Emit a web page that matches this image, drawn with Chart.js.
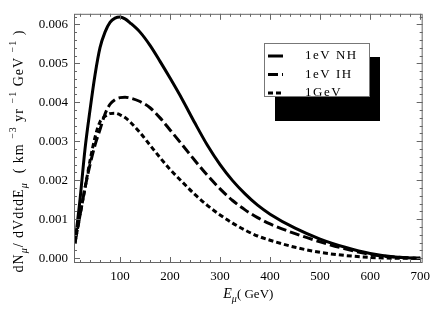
<!DOCTYPE html>
<html lang="en">
  <head>
    <meta charset="UTF-8" />
    <script src="https://cdn.jsdelivr.net/npm/chart.js@4"></script>
    <title>Muon spectrum</title>
    <style>
      body { margin: 0; background: #fff; }
    </style>
  </head>
  <body>
    <canvas id="chart" width="436" height="328"></canvas>
    <script>
      // energies in GeV
      const energy = [10, 20, 30, 40, 50, 60, 70, 80, 90, 100, 110, 120, 140, 160, 180, 200, 225, 250, 275, 300, 325, 350, 375, 400, 450, 500, 550, 600, 650, 700];
      const nh = [0.0004, 0.0015, 0.0028, 0.0038, 0.0047, 0.0054, 0.0058, 0.00605, 0.00616, 0.00619, 0.00614, 0.00604, 0.0058, 0.00546, 0.00505, 0.00462, 0.00406, 0.00346, 0.00289, 0.0024, 0.00199, 0.00165, 0.00136, 0.00113, 0.00077, 0.00049, 0.00028, 0.00012, 0.00003, 0.0];
      const ih = [0.0004, 0.0011, 0.0018, 0.0024, 0.0029, 0.0033, 0.0037, 0.00395, 0.00407, 0.00412, 0.00413, 0.00411, 0.00402, 0.00386, 0.0036, 0.00329, 0.0029, 0.0025, 0.00212, 0.00178, 0.00148, 0.00124, 0.00104, 0.00088, 0.00063, 0.00042, 0.00024, 0.0001, 0.00003, 0.0];
      const gev = [0.0004, 0.0011, 0.0018, 0.0025, 0.0031, 0.0035, 0.00364, 0.00371, 0.00372, 0.00368, 0.00361, 0.0035, 0.00322, 0.0029, 0.00258, 0.00228, 0.00195, 0.00163, 0.00135, 0.00111, 0.0009, 0.00072, 0.00057, 0.00046, 0.00028, 0.00015, 0.00007, 0.00002, 0.0, 0.0];
      const seriesNames = ["1eV NH", "1eV IH", "1GeV"];
      const xTicks = [100, 200, 300, 400, 500, 600, 700];
      const yTicks = [0, 0.001, 0.002, 0.003, 0.004, 0.005, 0.006];

      const serif = "'Liberation Serif', 'DejaVu Serif', serif";
      const dashes = [[], [10, 4], [5, 3]];

      function toPoints(ys) {
        return energy.map((e, i) => ({ x: e, y: ys[i] }));
      }

      // frame with inward ticks, like the original
      const framePlugin = {
        id: "frame",
        afterDraw(chart) {
          const ctx = chart.ctx;
          const a = chart.chartArea;
          const xs = chart.scales.x;
          const ys = chart.scales.y;
          ctx.save();
          ctx.strokeStyle = "#666";
          ctx.lineWidth = 1;
          ctx.strokeRect(a.left + 0.5, a.top + 0.5, a.right - a.left - 1, a.bottom - a.top - 1);
          ctx.beginPath();
          for (let v = 20; v <= 700; v += 20) {
            const px = Math.round(xs.getPixelForValue(v)) + 0.5;
            const len = v % 100 === 0 ? 6 : 3;
            ctx.moveTo(px, a.bottom);
            ctx.lineTo(px, a.bottom - len);
            ctx.moveTo(px, a.top);
            ctx.lineTo(px, a.top + len);
          }
          for (let k = 0; k <= 31; k++) {
            const v = k * 0.0002;
            const py = Math.round(ys.getPixelForValue(v)) + 0.5;
            const len = k % 5 === 0 ? 6 : 3;
            ctx.moveTo(a.left, py);
            ctx.lineTo(a.left + len, py);
            ctx.moveTo(a.right, py);
            ctx.lineTo(a.right - len, py);
          }
          ctx.stroke();

          // axis titles
          ctx.fillStyle = "#000";
          ctx.textBaseline = "alphabetic";
          function run(parts, x, y) {
            for (const p of parts) {
              ctx.font = p.f;
              ctx.fillText(p.t, x, y + (p.dy || 0));
              x += ctx.measureText(p.t).width;
            }
          }
          function width(parts) {
            let w = 0;
            for (const p of parts) { ctx.font = p.f; w += ctx.measureText(p.t).width; }
            return w;
          }
          const big = "14px " + serif;
          const small = "10px " + serif;
          const xt = [
            { t: "E", f: "italic 14px " + serif },
            { t: "\u03bc", f: "italic 10px " + serif, dy: 4 },
            { t: "( GeV)", f: "13px " + serif }
          ];
          const cx = (a.left + a.right) / 2;
          run(xt, cx - width(xt) / 2, 298);

          ctx.letterSpacing = "1px";
          const yt = [
            { t: "dN", f: big },
            { t: "\u03bc", f: "italic 10px " + serif, dy: 4 },
            { t: "/ dVdtdE", f: big },
            { t: "\u03bc", f: "italic 10px " + serif, dy: 4 },
            { t: "  ( km ", f: big },
            { t: "\u22123", f: small, dy: -7 },
            { t: " yr ", f: big },
            { t: "\u22121", f: small, dy: -7 },
            { t: " GeV ", f: big },
            { t: "\u22121", f: small, dy: -7 },
            { t: " )", f: big }
          ];
          ctx.translate(23, 151);
          ctx.rotate(-Math.PI / 2);
          run(yt, -width(yt) / 2, 0);
          ctx.restore();
        }
      };

      // boxed legend with drop shadow
      const legendPlugin = {
        id: "boxLegend",
        afterDraw(chart) {
          const ctx = chart.ctx;
          ctx.save();
          ctx.fillStyle = "#000";
          ctx.fillRect(275, 57, 105, 64);
          ctx.fillStyle = "#fff";
          ctx.fillRect(264, 43, 106, 54);
          ctx.strokeStyle = "#777";
          ctx.lineWidth = 1;
          ctx.strokeRect(264.5, 43.5, 105, 53);
          ctx.font = "13px " + serif;
          ctx.letterSpacing = "1.5px";
          ctx.textBaseline = "middle";
          chart.data.datasets.forEach((ds, i) => {
            const y = 56 + i * 18.5;
            ctx.strokeStyle = "#000";
            ctx.lineWidth = 3;
            ctx.setLineDash(ds.borderDash);
            ctx.beginPath();
            ctx.moveTo(268, y);
            ctx.lineTo(283, y);
            ctx.stroke();
            ctx.setLineDash([]);
            ctx.fillStyle = "#000";
            ctx.fillText(ds.label, 305, y);
          });
          ctx.restore();
        }
      };

      new Chart(document.getElementById("chart"), {
        type: "line",
        data: {
          datasets: [nh, ih, gev].map((ys, i) => ({
            label: seriesNames[i],
            data: toPoints(ys),
            borderColor: "#000",
            borderWidth: 3,
            borderDash: dashes[i],
            pointRadius: 0,
            cubicInterpolationMode: "monotone",
            fill: false
          }))
        },
        options: {
          responsive: false,
          animation: false,
          devicePixelRatio: 1,
          layout: { padding: { left: 0, right: 12, top: 4, bottom: 0 } },
          plugins: { legend: { display: false }, tooltip: { enabled: false } },
          scales: {
            x: {
              type: "linear",
              min: 8,
              max: 705,
              grid: { display: false, drawTicks: false },
              border: { display: false },
              afterBuildTicks: (s) => { s.ticks = xTicks.map((v) => ({ value: v })); },
              afterFit: (s) => { s.height = 65; },
              ticks: {
                padding: 6,
                color: "#000",
                maxRotation: 0,
                font: { family: serif, size: 13 }
              }
            },
            y: {
              min: -0.000123,
              max: 0.00627,
              grid: { display: false, drawTicks: false },
              border: { display: false },
              afterBuildTicks: (s) => { s.ticks = yTicks.map((v) => ({ value: v })); },
              afterFit: (s) => { s.width = 74; },
              ticks: {
                padding: 6,
                color: "#000",
                font: { family: serif, size: 13 },
                callback: (v) => v.toFixed(3)
              }
            }
          }
        },
        plugins: [framePlugin, legendPlugin]
      });
    </script>
  </body>
</html>
